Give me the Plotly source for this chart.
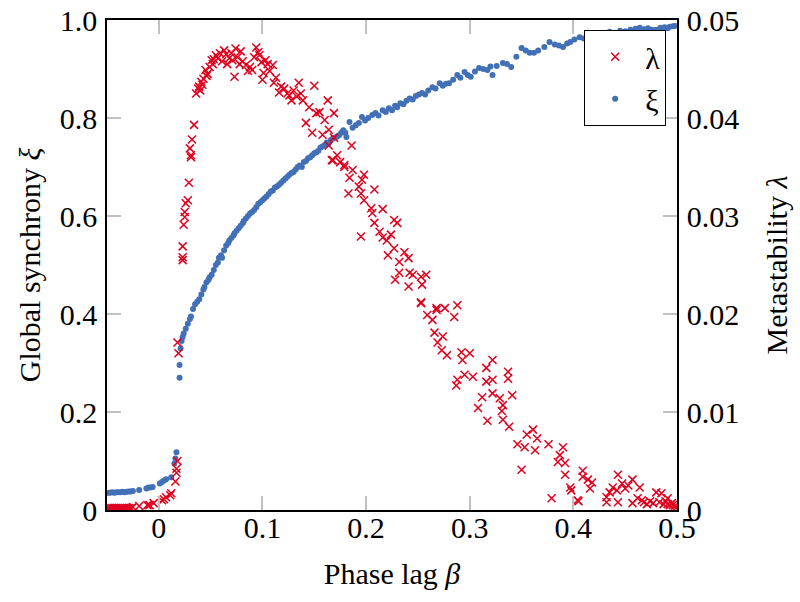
import plotly.graph_objects as go

# ---- Global synchrony xi (left axis) ----
xi_beta = [-0.049, -0.047, -0.045, -0.043, -0.041, -0.039, -0.037, -0.035, -0.033, -0.031,
           -0.029, -0.027, -0.025, -0.019, -0.012, -0.010, -0.008, -0.006, 0.001, 0.003,
           0.005, 0.007, 0.012, 0.015, 0.016, 0.017,
           0.020, 0.020, 0.021, 0.022, 0.023, 0.024, 0.026, 0.028, 0.030, 0.031,
           0.033, 0.035, 0.037, 0.039, 0.041, 0.043, 0.044, 0.046, 0.048, 0.049,
           0.051, 0.053, 0.055, 0.057, 0.058, 0.060, 0.061, 0.063, 0.065, 0.067,
           0.068, 0.070, 0.072, 0.073, 0.075, 0.077, 0.079, 0.081, 0.082, 0.084,
           0.086, 0.088, 0.090, 0.092, 0.094, 0.096, 0.098, 0.100, 0.102, 0.104,
           0.106, 0.108, 0.110, 0.112, 0.114, 0.116, 0.118, 0.120, 0.122, 0.124,
           0.126, 0.128, 0.130, 0.132, 0.134, 0.136, 0.138, 0.140, 0.142, 0.144,
           0.146, 0.148, 0.150, 0.152, 0.154, 0.156, 0.158, 0.160, 0.162, 0.164,
           0.166, 0.168, 0.170, 0.172, 0.174, 0.176, 0.178, 0.180, 0.181, 0.184,
           0.187, 0.190, 0.193, 0.196, 0.199, 0.202, 0.206, 0.209, 0.212, 0.216,
           0.219, 0.222, 0.225, 0.228, 0.230, 0.233, 0.236, 0.239, 0.242, 0.245,
           0.248, 0.251, 0.254, 0.257, 0.260, 0.264, 0.267, 0.271, 0.274, 0.277,
           0.280, 0.284, 0.288, 0.291, 0.295, 0.298, 0.301, 0.305, 0.309, 0.313,
           0.317, 0.320, 0.322, 0.326, 0.332, 0.336, 0.340, 0.345, 0.350, 0.354,
           0.358, 0.362, 0.366, 0.372, 0.377, 0.382, 0.386, 0.390, 0.394, 0.397,
           0.401, 0.406, 0.410, 0.415, 0.420, 0.425, 0.430, 0.435, 0.440, 0.445,
           0.450, 0.455, 0.460, 0.464, 0.468, 0.472, 0.476, 0.480, 0.484, 0.488,
           0.491, 0.493, 0.496, 0.498]
xi_vals = [0.035, 0.035, 0.036, 0.035, 0.036, 0.036, 0.036, 0.037, 0.036, 0.037,
           0.038, 0.038, 0.039, 0.041, 0.044, 0.046, 0.046, 0.047, 0.054, 0.057,
           0.060, 0.063, 0.067, 0.095, 0.105, 0.118,
           0.270, 0.296, 0.330, 0.345, 0.353, 0.360, 0.370, 0.380, 0.390, 0.395,
           0.410, 0.420, 0.425, 0.430, 0.440, 0.450, 0.455, 0.465, 0.470, 0.475,
           0.480, 0.490, 0.500, 0.505, 0.515, 0.520, 0.515, 0.530, 0.540, 0.545,
           0.550, 0.555, 0.560, 0.565, 0.570, 0.575, 0.580, 0.585, 0.590, 0.595,
           0.600, 0.605, 0.608, 0.612, 0.618, 0.625, 0.628, 0.632, 0.636, 0.640,
           0.645, 0.650, 0.652, 0.658, 0.660, 0.664, 0.668, 0.672, 0.676, 0.680,
           0.684, 0.688, 0.690, 0.695, 0.700, 0.703, 0.700, 0.710, 0.712, 0.718,
           0.720, 0.724, 0.728, 0.730, 0.733, 0.740, 0.742, 0.745, 0.750, 0.748,
           0.755, 0.758, 0.760, 0.762, 0.765, 0.770, 0.775, 0.770, 0.761, 0.792,
           0.780, 0.785, 0.790, 0.802, 0.795, 0.800, 0.806, 0.810, 0.805, 0.816,
           0.812, 0.820, 0.816, 0.825, 0.822, 0.830, 0.828, 0.835, 0.840, 0.838,
           0.845, 0.848, 0.851, 0.848, 0.856, 0.863, 0.860, 0.871, 0.866, 0.870,
           0.871, 0.878, 0.888, 0.882, 0.894, 0.888, 0.884, 0.895, 0.902, 0.900,
           0.898, 0.905, 0.888, 0.906, 0.912, 0.910, 0.904, 0.925, 0.943, 0.938,
           0.933, 0.933, 0.938, 0.945, 0.955, 0.950, 0.948, 0.945, 0.952, 0.955,
           0.960, 0.965, 0.962, 0.968, 0.965, 0.970, 0.972, 0.976, 0.974, 0.978,
           0.977, 0.980, 0.982, 0.984, 0.981, 0.983, 0.980, 0.980, 0.984, 0.985,
           0.983, 0.986, 0.987, 0.988]

# ---- Metastability lambda (right axis) ----
lam_beta = [-0.049, -0.047, -0.045, -0.043, -0.041, -0.039, -0.037, -0.035, -0.033, -0.031,
            -0.029, -0.027, -0.025, -0.019, -0.011, -0.009, -0.005, 0.003, 0.005, 0.007,
            0.011, 0.012, 0.016, 0.017, 0.017, 0.018,
            0.018, 0.019, 0.023, 0.023, 0.023, 0.024, 0.025, 0.025, 0.026, 0.029,
            0.028, 0.030, 0.031, 0.031, 0.032, 0.034,
            0.036, 0.038, 0.039, 0.040, 0.041, 0.042, 0.043, 0.045, 0.046, 0.047,
            0.049, 0.051, 0.052, 0.053, 0.055, 0.057, 0.059, 0.061, 0.063, 0.065,
            0.066, 0.068, 0.070, 0.071, 0.073, 0.074, 0.076, 0.078, 0.079, 0.081,
            0.084, 0.086, 0.088, 0.090, 0.092, 0.094, 0.096, 0.097, 0.099, 0.100,
            0.101, 0.103, 0.105, 0.107, 0.110, 0.111, 0.113, 0.116, 0.118, 0.121,
            0.124, 0.126, 0.128, 0.130, 0.133, 0.135, 0.137, 0.139, 0.142, 0.145,
            0.148, 0.150, 0.152, 0.155, 0.158, 0.160, 0.163, 0.164, 0.164, 0.167,
            0.168, 0.169, 0.169, 0.172, 0.175, 0.179, 0.179, 0.183, 0.184, 0.186,
            0.187, 0.193, 0.195, 0.195, 0.196, 0.198, 0.198, 0.205, 0.206, 0.208,
            0.208, 0.213, 0.216, 0.216, 0.220, 0.221, 0.224, 0.227, 0.227, 0.228,
            0.230, 0.232, 0.232, 0.237, 0.241, 0.241, 0.242, 0.245, 0.253, 0.253,
            0.253, 0.254, 0.258, 0.259, 0.264, 0.266, 0.268, 0.268, 0.269, 0.273,
            0.274, 0.276, 0.278, 0.285, 0.287, 0.288, 0.288, 0.292, 0.293, 0.295,
            0.300, 0.303, 0.308, 0.312, 0.316, 0.316, 0.317, 0.322, 0.322, 0.322,
            0.329, 0.331, 0.332, 0.332, 0.337, 0.337, 0.338, 0.341, 0.346, 0.350,
            0.353, 0.355, 0.361, 0.363, 0.365, 0.376, 0.379, 0.385, 0.387, 0.390,
            0.392, 0.392, 0.397, 0.398, 0.404, 0.405, 0.409, 0.409, 0.414, 0.416,
            0.418, 0.432, 0.432, 0.435, 0.438, 0.442, 0.443, 0.443, 0.447, 0.450,
            0.453, 0.457, 0.457, 0.462, 0.464, 0.466, 0.468, 0.471, 0.474, 0.477,
            0.480, 0.483, 0.485, 0.487, 0.489, 0.491, 0.491, 0.493, 0.495, 0.496,
            0.498, 0.500]
lam_vals = [0.0002, 0.0002, 0.0002, 0.0002, 0.0002, 0.0002, 0.0002, 0.0002, 0.0002, 0.0002,
            0.0002, 0.0002, 0.0003, 0.0004, 0.0005, 0.0005, 0.0007, 0.0010, 0.0011, 0.0013,
            0.0015, 0.0017, 0.0029, 0.0038, 0.0042, 0.0050,
            0.0171, 0.0160, 0.0269, 0.0258, 0.0255, 0.0291, 0.0299, 0.0304, 0.0313, 0.0334,
            0.0316, 0.0369, 0.0362, 0.0360, 0.0378, 0.0393,
            0.0425, 0.0430, 0.0432, 0.0428, 0.0437, 0.0434, 0.0440, 0.0449, 0.0443, 0.0445,
            0.0452, 0.0459, 0.0455, 0.0460, 0.0464, 0.0461, 0.0466, 0.0458, 0.0469, 0.0465,
            0.0455, 0.0461, 0.0466, 0.0459, 0.0442, 0.0471, 0.0462, 0.0455, 0.0468, 0.0458,
            0.0454, 0.0448, 0.0452, 0.0449, 0.0462, 0.0472, 0.0467, 0.0464, 0.0457, 0.0439,
            0.0446, 0.0459, 0.0455, 0.0448, 0.0454, 0.0436, 0.0441, 0.0426, 0.0432, 0.0430,
            0.0425, 0.0423, 0.0418, 0.0428, 0.0422, 0.0436, 0.0425, 0.0418, 0.0395, 0.0411,
            0.0385, 0.0433, 0.0405, 0.0406, 0.0383, 0.0398, 0.0418, 0.0388, 0.0372, 0.0357,
            0.0357, 0.0405, 0.0380, 0.0362, 0.0355, 0.0352, 0.0350, 0.0323, 0.0339, 0.0372,
            0.0347, 0.0330, 0.0323, 0.0279, 0.0337, 0.0342, 0.0316, 0.0308, 0.0303, 0.0327,
            0.0293, 0.0284, 0.0307, 0.0278, 0.0275, 0.0260, 0.0281, 0.0296, 0.0267, 0.0235,
            0.0293, 0.0253, 0.0242, 0.0263, 0.0257, 0.0228, 0.0242, 0.0240, 0.0238, 0.0212,
            0.0211, 0.0230, 0.0240, 0.0199, 0.0194, 0.0181, 0.0206, 0.0204, 0.0171, 0.0163,
            0.0177, 0.0206, 0.0158, 0.0197, 0.0127, 0.0209, 0.0133, 0.0161, 0.0153, 0.0138,
            0.0160, 0.0136, 0.0104, 0.0115, 0.0145, 0.0131, 0.0091, 0.0153, 0.0133, 0.0119,
            0.0114, 0.0101, 0.0107, 0.0092, 0.0141, 0.0134, 0.0085, 0.0117, 0.0067, 0.0041,
            0.0064, 0.0077, 0.0082, 0.0061, 0.0073, 0.0067, 0.0012, 0.0049, 0.0056, 0.0064,
            0.0048, 0.0036, 0.0023, 0.0020, 0.0010, 0.0009, 0.0040, 0.0034, 0.0031, 0.0022,
            0.0028, 0.0013, 0.0008, 0.0018, 0.0023, 0.0020, 0.0036, 0.0008, 0.0027, 0.0022,
            0.0025, 0.0031, 0.0007, 0.0012, 0.0023, 0.0010, 0.0008, 0.0006, 0.0009, 0.0007,
            0.0018, 0.0008, 0.0017, 0.0006, 0.0009, 0.0012, 0.0006, 0.0005, 0.0007, 0.0005,
            0.0004, 0.0003]

x_ticks = [0, 0.1, 0.2, 0.3, 0.4, 0.5]
x_labels = ["0", "0.1", "0.2", "0.3", "0.4", "0.5"]
y_ticks = [0, 0.2, 0.4, 0.6, 0.8, 1.0]
y_labels = ["0", "0.2", "0.4", "0.6", "0.8", "1.0"]
y2_ticks = [0, 0.01, 0.02, 0.03, 0.04, 0.05]
y2_labels = ["0", "0.01", "0.02", "0.03", "0.04", "0.05"]

RED = "rgb(224,0,30)"
BLUE = "rgb(66,112,182)"
FONT = "'Liberation Serif', 'Times New Roman', Times, serif"

fig = go.Figure()
fig.add_trace(go.Scatter(
    x=xi_beta, y=xi_vals, mode="markers", name="ξ", yaxis="y",
    marker=dict(symbol="circle", size=6, color=BLUE, line=dict(width=0)),
    legendrank=2,
))
fig.add_trace(go.Scatter(
    x=lam_beta, y=lam_vals, mode="markers", name="λ", yaxis="y2",
    marker=dict(symbol="x-thin-open", size=8, color=RED, line=dict(width=1.5, color=RED)),
    legendrank=1,
))

axis_common = dict(
    showgrid=False, zeroline=False, showline=True, linecolor="black", linewidth=1.5,
    ticks="inside", ticklen=14, tickwidth=1.5, tickcolor="rgb(192,192,192)",
    tickfont=dict(family=FONT, size=30, color="black"), automargin=False,
)

fig.update_layout(
    width=800, height=602,
    margin=dict(l=107, r=123, t=20, b=92),
    paper_bgcolor="white", plot_bgcolor="white",
    font=dict(family=FONT, size=30, color="black"),
    xaxis=dict(range=[-0.05, 0.5], tickvals=x_ticks, ticktext=x_labels, mirror="ticks",
               title=dict(text="Phase lag <i>β</i>", font=dict(family=FONT, size=30), standoff=20),
               ticklabelstandoff=-10, **axis_common),
    yaxis=dict(range=[0, 1], tickvals=y_ticks, ticktext=y_labels,
               title=dict(text="Global synchrony <i>ξ</i>", font=dict(family=FONT, size=30), standoff=10),
               ticklabelstandoff=2, **axis_common),
    yaxis2=dict(range=[0, 0.05], tickvals=y2_ticks, ticktext=y2_labels, overlaying="y", side="right",
                title=dict(text="Metastability <i>λ</i>", font=dict(family=FONT, size=30), standoff=28),
                ticklabelstandoff=2, **axis_common),
    legend=dict(x=0.981, y=0.98, xanchor="right", yanchor="top",
                bgcolor="white", bordercolor="black", borderwidth=1,
                font=dict(family=FONT, size=30), itemwidth=50),
    showlegend=True,
)

fig.write_html("out.html", config={"displayModeBar": False},
               post_script="document.body.style.margin='0';")
